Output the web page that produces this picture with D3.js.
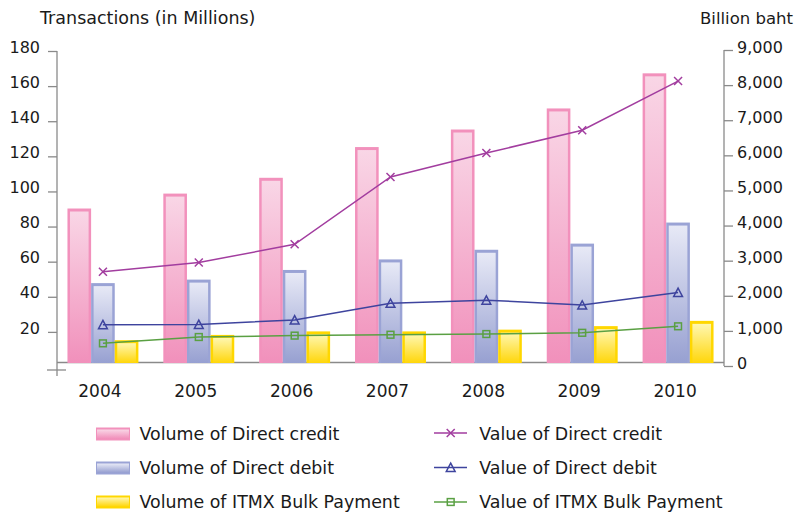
<!DOCTYPE html>
<html>
<head>
<meta charset="utf-8">
<script src="https://cdn.jsdelivr.net/npm/d3@7"></script>
<style>
  html, body { margin: 0; padding: 0; background: #fff; }
  svg { display: block; font-family: "DejaVu Sans", sans-serif; }
</style>
</head>
<body>
<svg id="chart" width="802" height="515"></svg>
<script>
// Years on the category axis
const years = ["2004", "2005", "2006", "2007", "2008", "2009", "2010"];

// Transaction volumes, millions (left axis, bars)
const volDirectCredit = [88, 96.5, 105.5, 123, 133, 145, 165];
const volDirectDebit  = [45.5, 47.5, 53, 59, 64.5, 68, 80];
const volItmxBulk     = [13, 16, 18, 18, 19, 21, 24];

// Transaction values, billion baht (right axis, lines)
const valDirectCredit = [2600, 2860, 3380, 5300, 5980, 6630, 8030];
const valDirectDebit  = [1090, 1100, 1225, 1700, 1790, 1650, 2010];
const valItmxBulk     = [560, 740, 780, 805, 825, 860, 1045];

// Axis ticks
const leftTicks  = [20, 40, 60, 80, 100, 120, 140, 160, 180];
const rightTicks = [0, 1000, 2000, 3000, 4000, 5000, 6000, 7000, 8000, 9000];

// Legend labels
const barLabels  = ["Volume of Direct credit", "Volume of Direct debit", "Volume of ITMX Bulk Payment"];
const lineLabels = ["Value of Direct credit", "Value of Direct debit", "Value of ITMX Bulk Payment"];

const svg = d3.select("#chart");
const axisGrey = "#8a8a8a";
const textColor = "#1a1a1a";

// Bar styles: border colour and top/bottom gradient stops
const barStyles = [
  { id: "gPink",   border: "#f291bc", top: "#f9d6e6", bottom: "#f190bb" },
  { id: "gBlue",   border: "#9aa3d5", top: "#e7e9f6", bottom: "#97a0d1" },
  { id: "gYellow", border: "#ffd700", top: "#fff7b0", bottom: "#ffd60a" }
];
const lineStyles = [
  { color: "#a23d9f", marker: "cross" },
  { color: "#3e449e", marker: "triangle" },
  { color: "#5aa043", marker: "square" }
];

const defs = svg.append("defs");
barStyles.forEach(s => {
  const g = defs.append("linearGradient").attr("id", s.id)
    .attr("x1", 0).attr("y1", 0).attr("x2", 0).attr("y2", 1);
  g.append("stop").attr("offset", "0%").attr("stop-color", s.top);
  g.append("stop").attr("offset", "100%").attr("stop-color", s.bottom);
});

// Scales
const x0 = d3.scaleBand().domain(years).range([55, 726]).paddingInner(0.26).paddingOuter(0.13);
const x1 = d3.scaleBand().domain([0, 1, 2]).range([0, x0.bandwidth()]);
const yL = d3.scaleLinear().domain([0, 180]).range([363, 47]);
const yR = d3.scaleLinear().domain([0, 9000]).range([363, 47]);
const cx = yr => x0(yr) + x0.bandwidth() / 2;

// Left axis
const gL = svg.append("g").attr("transform", "translate(57,0)")
  .call(d3.axisLeft(yL).tickValues(leftTicks).tickSize(9).tickPadding(8).tickFormat(d3.format("d")));
gL.select(".domain").remove();
gL.selectAll(".tick line").attr("y1", 4).attr("y2", 4).attr("stroke", axisGrey).attr("stroke-width", 1.3);
gL.selectAll(".tick text").attr("font-size", 16).attr("fill", textColor).attr("font-family", "DejaVu Sans");
svg.append("line").attr("x1", 57).attr("x2", 57).attr("y1", 51).attr("y2", 376)
  .attr("stroke", axisGrey).attr("stroke-width", 1.3);
svg.append("line").attr("x1", 47).attr("x2", 66).attr("y1", 370).attr("y2", 370)
  .attr("stroke", axisGrey).attr("stroke-width", 1.3);

// Right axis
const gR = svg.append("g").attr("transform", "translate(724,0)")
  .call(d3.axisRight(yR).tickValues(rightTicks).tickSize(9).tickPadding(4).tickFormat(d3.format(",")));
gR.select(".domain").remove();
gR.selectAll(".tick line").attr("y1", 3).attr("y2", 3).attr("stroke", axisGrey).attr("stroke-width", 1.3);
gR.selectAll(".tick text").attr("font-size", 16).attr("fill", textColor).attr("font-family", "DejaVu Sans");
svg.append("line").attr("x1", 724).attr("x2", 724).attr("y1", 50).attr("y2", 366)
  .attr("stroke", axisGrey).attr("stroke-width", 1.3);

// Category baseline and labels
svg.append("line").attr("x1", 57).attr("x2", 724).attr("y1", 362.5).attr("y2", 362.5)
  .attr("stroke", axisGrey).attr("stroke-width", 1.5);
svg.append("g").selectAll("text").data(years).join("text")
  .attr("x", d => cx(d) - 3).attr("y", 396.5)
  .attr("text-anchor", "middle").attr("font-size", 17).attr("fill", textColor)
  .text(d => d);

// Bars
const volumes = [volDirectCredit, volDirectDebit, volItmxBulk];
const barRows = [];
years.forEach((yr, i) => volumes.forEach((arr, s) => barRows.push({ yr, s, v: arr[i] })));
const bars = svg.append("g").selectAll("g").data(barRows).join("g");
bars.append("rect")
  .attr("x", d => x0(d.yr) + x1(d.s)).attr("width", x1.bandwidth())
  .attr("y", d => yL(d.v)).attr("height", d => yL(0) - yL(d.v))
  .attr("fill", d => barStyles[d.s].border);
bars.append("rect")
  .attr("x", d => x0(d.yr) + x1(d.s) + 2.5).attr("width", x1.bandwidth() - 5)
  .attr("y", d => yL(d.v) + 3).attr("height", d => Math.max(0, yL(0) - yL(d.v) - 3))
  .attr("fill", d => `url(#${barStyles[d.s].id})`);

// Markers
function drawMarker(g, type, color) {
  if (type === "cross") {
    g.append("path").attr("d", "M-4,-4L4,4M-4,4L4,-4")
      .attr("stroke", color).attr("stroke-width", 1.5).attr("fill", "none");
  } else if (type === "triangle") {
    g.append("path").attr("d", "M0,-4.3L4.4,4L-4.4,4Z")
      .attr("stroke", color).attr("stroke-width", 1.5).attr("fill", "none");
  } else {
    g.append("rect").attr("x", -3.4).attr("y", -3.4).attr("width", 6.8).attr("height", 6.8)
      .attr("stroke", color).attr("stroke-width", 1.5).attr("fill", "none");
  }
}

// Value lines
const values = [valDirectCredit, valDirectDebit, valItmxBulk];
const lineGen = d3.line().x((d, i) => cx(years[i])).y(d => yR(d));
values.forEach((arr, s) => {
  const st = lineStyles[s];
  svg.append("path").datum(arr).attr("d", lineGen)
    .attr("fill", "none").attr("stroke", st.color).attr("stroke-width", 1.5);
  arr.forEach((v, i) => {
    const g = svg.append("g").attr("transform", `translate(${cx(years[i])},${yR(v)})`);
    drawMarker(g, st.marker, st.color);
  });
});

// Axis titles
svg.append("text").attr("x", 40).attr("y", 24).attr("font-size", 17.5).attr("fill", textColor)
  .text("Transactions (in Millions)");
svg.append("text").attr("x", 793).attr("y", 24).attr("text-anchor", "end").attr("font-size", 16.5)
  .attr("fill", textColor).text("Billion baht");

// Legend
const rowY = [434, 468, 502];
barLabels.forEach((lab, s) => {
  const st = barStyles[s];
  svg.append("rect").attr("x", 96).attr("y", rowY[s] - 6.5).attr("width", 34).attr("height", 13)
    .attr("fill", st.border);
  svg.append("rect").attr("x", 97).attr("y", rowY[s] - 4.5).attr("width", 32).attr("height", 9)
    .attr("fill", `url(#${st.id})`);
  svg.append("text").attr("x", 139.5).attr("y", rowY[s] + 6.3).attr("font-size", 17.4)
    .attr("fill", textColor).text(lab);
});
lineLabels.forEach((lab, s) => {
  const st = lineStyles[s];
  const ly = rowY[s] - 1 + s * 0.5;
  svg.append("line").attr("x1", 434).attr("x2", 467).attr("y1", ly).attr("y2", ly)
    .attr("stroke", st.color).attr("stroke-width", 1.5);
  const g = svg.append("g").attr("transform", `translate(450.7,${ly})`);
  drawMarker(g, st.marker, st.color);
  svg.append("text").attr("x", 479.3).attr("y", rowY[s] + 6.3).attr("font-size", 17.4)
    .attr("fill", textColor).text(lab);
});
</script>
</body>
</html>
